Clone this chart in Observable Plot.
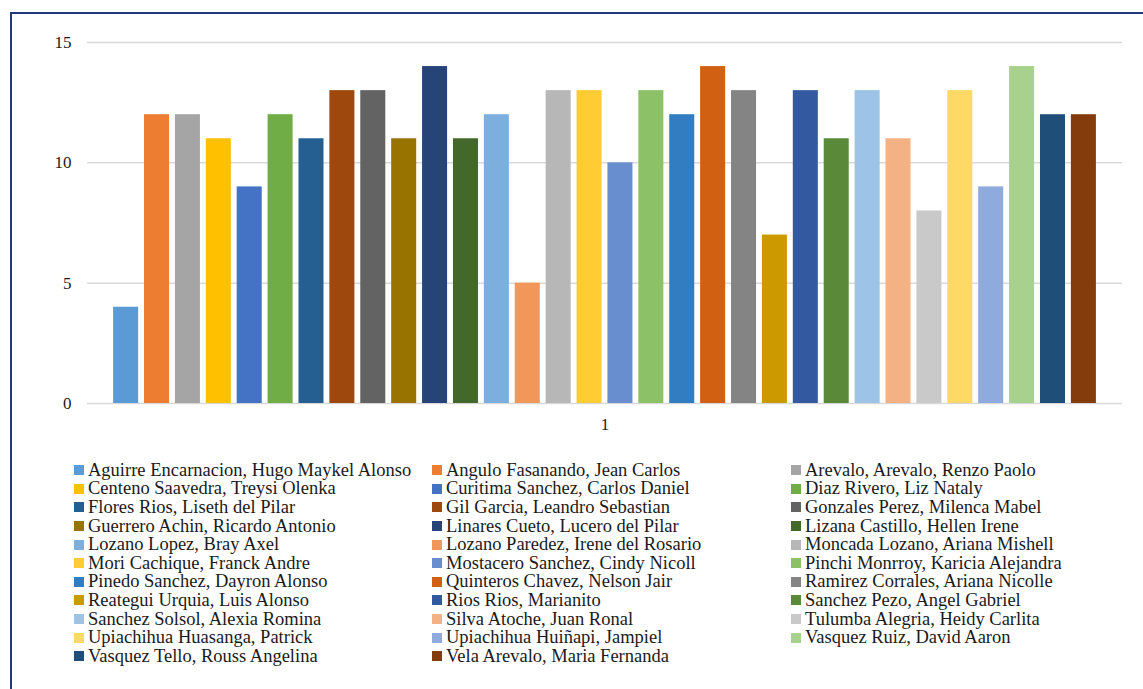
<!DOCTYPE html>
<html>
<head>
<meta charset="utf-8">
<script src="https://cdn.jsdelivr.net/npm/d3@7"></script>
<script src="https://cdn.jsdelivr.net/npm/@observablehq/plot@0.6"></script>
<style>
  html, body { margin: 0; padding: 0; background: #fff; overflow: hidden; }
  #page { position: relative; width: 1143px; height: 689px; overflow: hidden; background: #fff; }
  #frame { position: absolute; left: 10px; top: 12px; width: 1200px; height: 760px;
           border-top: 2px solid #1F3A78; border-left: 2px solid #1F3A78; box-sizing: border-box; }
  #chart { position: absolute; left: 0; top: 0; }
  #legend { position: absolute; left: 74px; top: 461px; display: grid;
            grid-template-columns: 358px 359px 340px; row-gap: 0px;
            font-family: "Liberation Serif", "DejaVu Serif", serif; font-size: 18.5px; color: #1a1a1a; }
  .item { display: flex; align-items: center; height: 18.6px; white-space: nowrap; }
  .sw { width: 10px; height: 10px; margin-right: 4px; flex: none; }
</style>
</head>
<body>
<div id="page">
  <div id="frame"></div>
  <div id="chart"></div>
  <div id="legend"></div>
</div>
<script>
const names = [
  "Aguirre Encarnacion, Hugo Maykel Alonso",
  "Angulo Fasanando, Jean Carlos",
  "Arevalo, Arevalo, Renzo Paolo",
  "Centeno Saavedra, Treysi Olenka",
  "Curitima Sanchez, Carlos Daniel",
  "Diaz Rivero, Liz Nataly",
  "Flores Rios, Liseth del Pilar",
  "Gil Garcia, Leandro Sebastian",
  "Gonzales Perez, Milenca Mabel",
  "Guerrero Achin, Ricardo Antonio",
  "Linares Cueto, Lucero del Pilar",
  "Lizana Castillo, Hellen Irene",
  "Lozano Lopez, Bray Axel",
  "Lozano Paredez, Irene del Rosario",
  "Moncada Lozano, Ariana Mishell",
  "Mori Cachique, Franck Andre",
  "Mostacero Sanchez, Cindy Nicoll",
  "Pinchi Monrroy, Karicia Alejandra",
  "Pinedo Sanchez, Dayron Alonso",
  "Quinteros Chavez, Nelson Jair",
  "Ramirez Corrales, Ariana Nicolle",
  "Reategui Urquia, Luis Alonso",
  "Rios Rios, Marianito",
  "Sanchez Pezo, Angel Gabriel",
  "Sanchez Solsol, Alexia Romina",
  "Silva Atoche, Juan Ronal",
  "Tulumba Alegria, Heidy Carlita",
  "Upiachihua Huasanga, Patrick",
  "Upiachihua Huiñapi, Jampiel",
  "Vasquez Ruiz, David Aaron",
  "Vasquez Tello, Rouss Angelina",
  "Vela Arevalo, Maria Fernanda"
];
const values = [4,12,12,11,9,12,11,13,13,11,14,11,12,5,13,13,10,13,12,14,13,7,13,11,13,11,8,13,9,14,12,12];
const colors = [
  "#5B9BD5","#ED7D31","#A5A5A5","#FFC000","#4472C4","#70AD47","#255E91","#9E480E",
  "#636363","#997300","#264478","#43682B","#7CAFDD","#F1975A","#B7B7B7","#FFCD33",
  "#698ED0","#8CC168","#327DC2","#D26012","#848484","#CC9A00","#335AA1","#5A8A39",
  "#9DC3E6","#F4B183","#C9C9C9","#FFD966","#8FAADC","#A9D18E","#1F4E79","#843C0C"
];
const category = "1";
const yTicks = [0, 5, 10, 15];

const data = names.map((n, i) => ({name: n, value: values[i], cat: category}));

const chart = Plot.plot({
  width: 1143,
  height: 440,
  marginLeft: 87,
  marginRight: 21,
  marginTop: 42,
  marginBottom: 37,
  style: {fontFamily: "'Liberation Serif', 'DejaVu Serif', serif", fontSize: "17px", color: "#1a1a1a", background: "transparent"},
  fx: {domain: [category], padding: 0, round: false, axis: "bottom", tickSize: 0, tickPadding: 14, label: null},
  x: {domain: names, paddingInner: 0.19, paddingOuter: 0.845, round: false, axis: null},
  y: {domain: [0, 15], ticks: yTicks, tickSize: 0, tickPadding: 16, label: null},
  color: {domain: names, range: colors},
  marks: [
    Plot.gridY(yTicks, {stroke: "#D9D9D9", strokeOpacity: 1, strokeWidth: 1.5}),
    Plot.barY(data, {fx: "cat", x: "name", y: "value", fill: "name"})
  ]
});
document.getElementById("chart").appendChild(chart);

const legend = document.getElementById("legend");
names.forEach((n, i) => {
  const it = document.createElement("div");
  it.className = "item";
  const sw = document.createElement("span");
  sw.className = "sw";
  sw.style.background = colors[i];
  const t = document.createElement("span");
  t.textContent = n;
  it.appendChild(sw); it.appendChild(t);
  legend.appendChild(it);
});
</script>
</body>
</html>
